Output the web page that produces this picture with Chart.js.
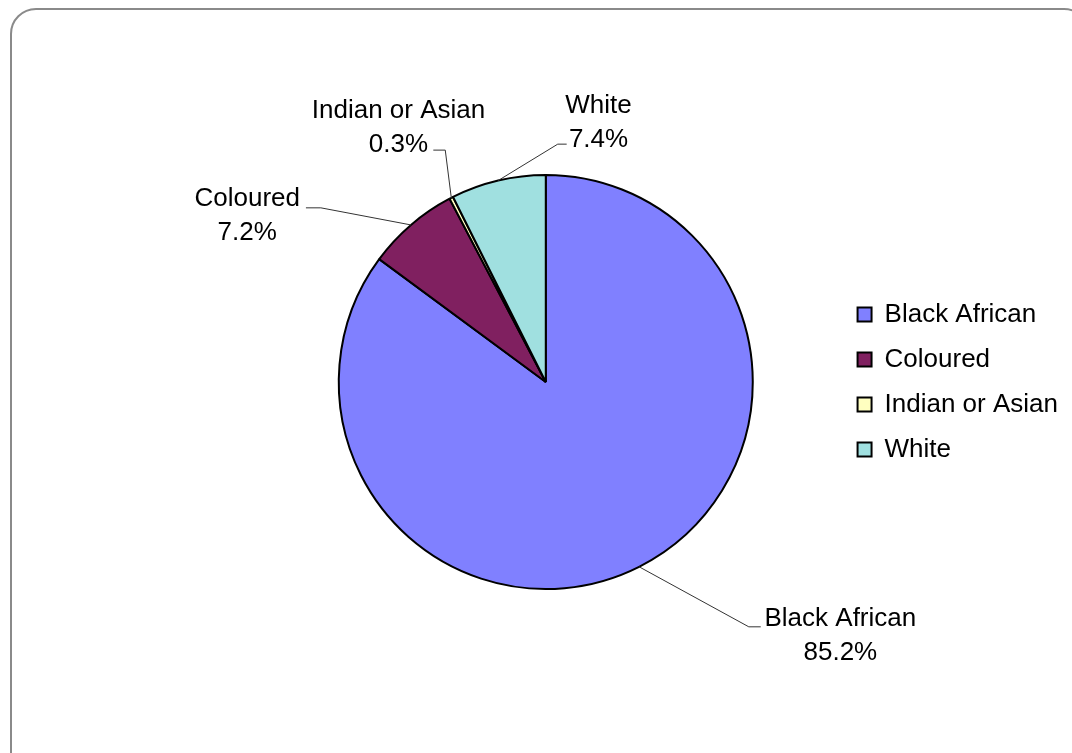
<!DOCTYPE html>
<html>
<head>
<meta charset="utf-8">
<script src="https://cdn.jsdelivr.net/npm/chart.js@4/dist/chart.umd.min.js"></script>
<style>
  html, body { margin: 0; padding: 0; background: #fff; overflow: hidden; }
  #wrap { position: relative; width: 1072px; height: 753px; }
  #frame { position: absolute; left: 10px; top: 8px; width: 1080px; height: 770px; border: 2px solid #8a8a8a; border-radius: 26px; box-sizing: border-box; }
  canvas { position: absolute; left: 0; top: 0; }
</style>
</head>
<body>
<div id="wrap">
  <div id="frame"></div>
  <canvas id="chartEthnic" width="1072" height="753"></canvas>
</div>
<script>
const groups = ['Black African', 'Coloured', 'Indian or Asian', 'White'];
const shares = [85.2, 7.2, 0.3, 7.4];
const sliceColours = ['#8080ff', '#802060', '#ffffc0', '#a0e0e0'];

// callout placement relative to the pie centre, in px for a 208px radius
const calloutLayout = [
  { elbow: [204, 246], end: [216, 246], text: [296, 238] },
  { elbow: [-226, -175], end: [-241, -175], text: [-300, -184] },
  { elbow: [-101, -233], end: [-113, -233], text: [-148, -272] },
  { elbow: [12, -239], end: [21, -239], text: [53, -278] },
];

const FONT = '"Liberation Sans", Arial, sans-serif';

const calloutPlugin = {
  id: 'callouts',
  afterDatasetsDraw(chart) {
    const ctx = chart.ctx;
    const meta = chart.getDatasetMeta(0);
    ctx.save();
    meta.data.forEach((arc, i) => {
      const { x, y, startAngle, endAngle, outerRadius } =
        arc.getProps(['x', 'y', 'startAngle', 'endAngle', 'outerRadius'], true);
      const c = calloutLayout[i];
      const k = outerRadius / 208;
      const mid = (startAngle + endAngle) / 2;
      ctx.beginPath();
      ctx.moveTo(x + Math.cos(mid) * outerRadius, y + Math.sin(mid) * outerRadius);
      ctx.lineTo(x + c.elbow[0] * k, y + c.elbow[1] * k);
      ctx.lineTo(x + c.end[0] * k, y + c.end[1] * k);
      ctx.strokeStyle = '#333';
      ctx.lineWidth = 1;
      ctx.stroke();

      ctx.fillStyle = '#000';
      ctx.font = '26px ' + FONT;
      ctx.textAlign = 'center';
      ctx.textBaseline = 'middle';
      const tx = x + c.text[0] * k;
      const ty = y + c.text[1] * k;
      ctx.fillText(groups[i], tx, ty);
      ctx.fillText(shares[i].toFixed(1) + '%', tx, ty + 34);
    });
    ctx.restore();
  },
};

new Chart(document.getElementById('chartEthnic'), {
  type: 'pie',
  data: {
    labels: groups,
    datasets: [{
      data: shares,
      backgroundColor: sliceColours,
      borderColor: '#000',
      borderWidth: 2,
    }],
  },
  options: {
    responsive: false,
    animation: false,
    layout: { padding: { top: 174, bottom: 163, left: 253, right: 4 } },
    plugins: {
      legend: {
        position: 'right',
        labels: {
          font: { family: FONT, size: 26 },
          color: '#000',
          boxWidth: 14,
          boxHeight: 14,
          padding: 19,
        },
      },
      tooltip: { enabled: false },
    },
  },
  plugins: [calloutPlugin],
});
</script>
</body>
</html>
